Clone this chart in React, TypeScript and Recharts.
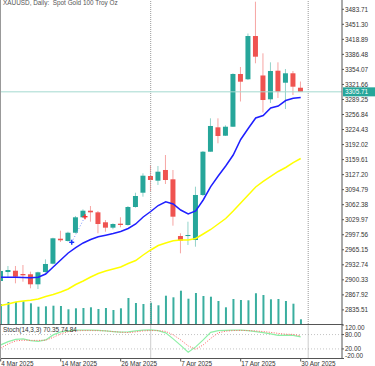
import { Bar, ComposedChart, Line, ReferenceDot, ReferenceLine, XAxis, YAxis } from 'recharts';

// bar dates (daily, gold closed on Good Friday)
const dates = [
    '4 Mar', '5 Mar', '6 Mar', '7 Mar', '10 Mar', '11 Mar', '12 Mar', '13 Mar', '14 Mar', '17 Mar',
    '18 Mar', '19 Mar', '20 Mar', '21 Mar', '24 Mar', '25 Mar', '26 Mar', '27 Mar', '28 Mar', '31 Mar',
    '1 Apr', '2 Apr', '3 Apr', '4 Apr', '7 Apr', '8 Apr', '9 Apr', '10 Apr', '11 Apr', '14 Apr',
    '15 Apr', '16 Apr', '17 Apr', '21 Apr', '22 Apr', '23 Apr', '24 Apr', '25 Apr', '28 Apr', '29 Apr',
    '30 Apr',
];

const opens = [
    2897.8, 2917.2, 2920.0, 2912.9, 2912.3, 2890.7, 2917.2, 2935.1, 2989.0, 2984.1,
    3001.9, 3035.2, 3049.4, 3045.9, 3024.4, 3012.8, 3021.4, 3018.6, 3057.4, 3088.2,
    3124.2, 3114.1, 3137.2, 3117.1, 2994.8, 2994.8, 2986.2, 3083.3, 3176.6, 3229.2,
    3211.1, 3230.5, 3344.2, 3332.8, 3426.1, 3341.0, 3289.6, 3351.3, 3325.4, 3345.7,
    3314.6,
];
const highs = [
    2923.7, 2930.2, 2930.2, 2932.3, 2917.9, 2917.9, 2944.6, 2991.2, 3006.3, 3004.1,
    3038.0, 3052.4, 3059.5, 3048.8, 3029.3, 3022.2, 3035.2, 3059.5, 3088.2, 3130.0,
    3147.9, 3145.8, 3169.5, 3137.2, 3000.7, 3025.7, 3101.2, 3178.2, 3248.6, 3248.6,
    3233.6, 3345.7, 3359.3, 3431.5, 3500.1, 3388.8, 3369.4, 3369.4, 3355.0, 3350.7,
    3328.0,
];
const lows = [
    2893.5, 2904.3, 2892.8, 2896.3, 2882.1, 2880.5, 2915.7, 2933.8, 2981.9, 2982.6,
    3000.7, 3033.7, 3025.7, 3000.7, 3004.1, 3009.3, 3013.6, 3017.1, 3055.9, 3079.6,
    3090.4, 3104.8, 3107.0, 3017.1, 2957.5, 2975.4, 2971.8, 3081.1, 3176.6, 3194.7,
    3210.5, 3229.9, 3284.9, 3331.3, 3367.3, 3261.2, 3281.6, 3292.4, 3268.7, 3298.9,
    3305.4,
];
const closes = [
    2919.4, 2921.5, 2907.1, 2910.1, 2890.7, 2916.6, 2934.5, 2989.9, 2985.6, 3001.9,
    3035.2, 3049.4, 3045.9, 3020.7, 3012.8, 3020.7, 3018.6, 3057.4, 3081.1, 3124.9,
    3115.6, 3133.5, 3115.6, 3036.5, 2984.7, 2997.0, 3083.3, 3176.6, 3232.1, 3210.5,
    3230.5, 3344.2, 3327.6, 3426.1, 3381.5, 3288.1, 3350.7, 3306.0, 3345.7, 3316.8,
    3305.71,
];

// moving averages
const maFast = [
    2905.8, 2905.8, 2905.8, 2905.3, 2904.9, 2905.8, 2912.8, 2928.0, 2943.1, 2958.2,
    2970.0, 2979.8, 2987.3, 2993.1, 2996.6, 3000.2, 3004.6, 3011.0, 3020.7, 3035.8,
    3047.7, 3060.6, 3068.8, 3063.9, 3050.9, 3042.3, 3048.8, 3072.5, 3101.2, 3124.2,
    3145.8, 3169.5, 3203.0, 3226.7, 3249.3, 3254.7, 3270.9, 3275.2, 3287.0, 3291.8,
    3293.5,
];
const maSlow = [
    2845.0, 2848.2, 2852.5, 2854.7, 2856.2, 2859.0, 2864.4, 2868.7, 2874.1, 2880.6,
    2890.3, 2897.8, 2906.4, 2914.0, 2919.4, 2923.7, 2928.0, 2935.6, 2942.0, 2953.9,
    2964.7, 2974.4, 2979.8, 2984.5, 2986.2, 2986.2, 2989.5, 2999.2, 3008.9, 3020.7,
    3032.6, 3048.8, 3066.0, 3083.3, 3100.5, 3112.4, 3123.2, 3134.0, 3142.6, 3153.3,
    3162.0,
];

// tick volume, thousands
const volumes = [
    200, 220, 220, 227, 207, 173, 177, 183, 180, 147,
    157, 160, 167, 150, 160, 140, 157, 260, 210, 200,
    213, 187, 283, 267, 333, 253, 310, 280, 273, 230,
    167, 250, 240, 237, 307, 290, 247, 250, 230, 203,
    47,
];

const stochK = [
    36.8, 50.6, 59.9, 61.9, 54.8, 51.5, 57.8, 78.7, 91.3, 95.4,
    98.4, 98.4, 98.4, 97.5, 95.4, 92.5, 90.0, 91.3, 95.4, 98.4,
    99.6, 96.7, 87.1, 61.9, 34.7, 6.3, 28.5, 57.8, 89.2, 96.7,
    97.5, 98.4, 98.4, 96.3, 92.5, 87.9, 82.9, 76.6, 77.4, 76.6,
    70.35,
];
const stochD = [
    23.0, 41.0, 53.6, 56.5, 55.7, 55.7, 56.5, 68.2, 82.9, 92.5,
    95.4, 96.7, 96.7, 96.3, 95.4, 92.5, 90.0, 88.3, 91.3, 95.4,
    96.7, 96.3, 93.3, 78.7, 57.8, 32.6, 18.8, 36.8, 64.0, 87.1,
    94.2, 96.7, 97.5, 96.7, 95.4, 92.5, 89.2, 85.0, 81.6, 80.8,
    74.84,
];

const priceTicks = [
    2835.51, 2867.92, 2900.33, 2932.74, 2965.15, 2997.56, 3029.97, 3062.38, 3094.79, 3127.2,
    3159.61, 3192.02, 3224.43, 3256.84, 3289.25, 3321.66, 3354.07, 3386.48, 3418.89, 3451.3,
    3483.71,
];
const stochTicks = [120, 80, 20, -20];
const stochLevels = [80, 20];
const dateTickIdx = [0, 8, 16, 24, 32, 40];
const monthStarts = [20, 41];
const lastPrice = 3305.71;
const trades = [
    { i: 9.47, price: 2981.3, side: 'buy' },
    { i: 11.24, price: 3036.5, side: 'sell' },
];

const W = 375;
const AXIS_W = 33;
const X_DOMAIN: [number, number] = [-0.0933, 45.507];
const FONT = '"Liberation Sans", Arial, sans-serif';
const UP = '#26a69a';
const DOWN = '#ef5350';

const rows = dates.map((date, i) => ({
    i,
    date,
    open: opens[i],
    close: closes[i],
    range: [lows[i], highs[i]],
    fast: maFast[i],
    slow: maSlow[i],
    vol: volumes[i],
    k: stochK[i],
    d: stochD[i],
}));

function Candle(props: any) {
    const { x, y, width, height, payload } = props;
    if (!payload) return null;
    const [low, high] = payload.range;
    const k = height / (high - low || 1);
    const yo = y + (high - payload.open) * k;
    const yc = y + (high - payload.close) * k;
    const up = payload.close >= payload.open;
    const cx = x + width / 2;
    return (
        <g>
            <line x1={cx} x2={cx} y1={y} y2={y + height} stroke={up ? '#93d3ca' : '#f6a5a3'} />
            <rect x={cx - 2.5} y={Math.min(yo, yc)} width={5} height={Math.max(1, Math.abs(yc - yo))} fill={up ? UP : DOWN} />
        </g>
    );
}

function PriceTag(props: any) {
    const vb = props.viewBox;
    if (!vb) return null;
    const x = vb.x + vb.width + 1;
    return (
        <g>
            <rect x={x} y={vb.y - 4.5} width={32} height={9} fill={UP} />
            <text x={x + 2} y={vb.y + 2.3} fontSize={6.4} fill="#fff" fontFamily={FONT}>
                {lastPrice.toFixed(2)}
            </text>
        </g>
    );
}

function TradeMark(props: any) {
    const { cx, cy, side } = props;
    const c = side === 'buy' ? '#1533ff' : '#ff2b2b';
    return (
        <g stroke={c} strokeWidth={1.4}>
            <line x1={cx - 2.5} x2={cx + 2.5} y1={cy} y2={cy} />
            <line x1={cx} x2={cx} y1={cy - 2.5} y2={cy + 2.5} />
        </g>
    );
}

function StochTick(props: any) {
    const { x, y, payload } = props;
    const v = payload.value;
    const shift = v === 120 ? 2.7 : v === -20 ? -3.2 : 0;
    return (
        <text x={x} y={y + shift} dy="0.35em" fontSize={6.4} fill="#333" fontFamily={FONT} textAnchor="start">
            {v.toFixed(2)}
        </text>
    );
}

function DateTick(props: any) {
    const { x, y, payload } = props;
    return (
        <text x={x + 0.5} y={y} dy="0.71em" fontSize={6.4} fill="#333" fontFamily={FONT} textAnchor="start">
            {`${dates[payload.value]} 2025`}
        </text>
    );
}

export default function App() {
    return (
        <div style={{ position: 'absolute', left: 0, top: 0, width: W, height: 366, background: '#fff', overflow: 'hidden' }}>
            <div style={{ position: 'absolute', left: 0, top: 0 }}>
                <ComposedChart width={W} height={324} data={rows} margin={{ top: 0, right: 0, bottom: 0, left: 0 }}>
                    <XAxis dataKey="i" type="number" domain={X_DOMAIN} allowDataOverflow hide />
                    <XAxis xAxisId="v" dataKey="i" type="number" domain={X_DOMAIN} allowDataOverflow hide />
                    <YAxis
                        orientation="right"
                        width={AXIS_W}
                        type="number"
                        domain={[2805.09, 3503.76]}
                        allowDataOverflow
                        ticks={priceTicks}
                        interval={0}
                        tickSize={2}
                        tickMargin={1}
                        tickFormatter={(v: number) => v.toFixed(2)}
                        tick={{ fontSize: 6.4, fill: '#333', fontFamily: FONT, textAnchor: 'start' }}
                        axisLine={{ stroke: '#555' }}
                        tickLine={{ stroke: '#555' }}
                    />
                    <YAxis yAxisId="v" hide domain={[0, 3240]} />
                    {monthStarts.map((m) => (
                        <ReferenceLine key={m} x={m} stroke="#999" strokeDasharray="1 1" />
                    ))}
                    <Bar xAxisId="v" yAxisId="v" dataKey="vol" barSize={2} fill="#3aae9f" isAnimationActive={false} />
                    <ReferenceLine y={lastPrice} stroke="#a3d9cf" label={<PriceTag />} />
                    <Line type="linear" dataKey="slow" stroke="#ffff00" strokeWidth={1.5} dot={false} isAnimationActive={false} />
                    <Line type="linear" dataKey="fast" stroke="#1f1fff" strokeWidth={1.5} dot={false} isAnimationActive={false} />
                    <Bar dataKey="range" barSize={5} shape={<Candle />} isAnimationActive={false} />
                    <ReferenceLine
                        segment={[{ x: trades[0].i, y: trades[0].price }, { x: trades[1].i, y: trades[1].price }]}
                        stroke="#7f96ff"
                        strokeDasharray="1 2"
                    />
                    {trades.map((t) => (
                        <ReferenceDot key={t.side} x={t.i} y={t.price} r={2} shape={(p: any) => <TradeMark {...p} side={t.side} />} />
                    ))}
                </ComposedChart>
            </div>
            <div style={{ position: 'absolute', left: 0, top: 324 }}>
                <ComposedChart width={W} height={42} data={rows} margin={{ top: 1, right: 0, bottom: 0, left: 0 }}>
                    <XAxis
                        dataKey="i"
                        type="number"
                        domain={X_DOMAIN}
                        allowDataOverflow
                        ticks={dateTickIdx}
                        interval={0}
                        height={7.5}
                        tickSize={3}
                        tickMargin={0}
                        tick={<DateTick />}
                        axisLine={{ stroke: '#555' }}
                        tickLine={{ stroke: '#555' }}
                    />
                    <YAxis
                        orientation="right"
                        width={AXIS_W}
                        type="number"
                        domain={[-20, 120]}
                        allowDataOverflow
                        ticks={stochTicks}
                        interval={0}
                        tickSize={2}
                        tickMargin={1}
                        tick={<StochTick />}
                        axisLine={{ stroke: '#555' }}
                        tickLine={{ stroke: '#555' }}
                    />
                    {stochLevels.map((l) => (
                        <ReferenceLine key={l} y={l} stroke="#c4c4c4" strokeDasharray="1 2" />
                    ))}
                    {monthStarts.map((m) => (
                        <ReferenceLine key={m} x={m} stroke="#999" strokeDasharray="1 1" />
                    ))}
                    <Line type="linear" dataKey="k" stroke="#8ef0a6" strokeWidth={1.2} dot={false} isAnimationActive={false} />
                    <Line type="linear" dataKey="d" stroke="#ff6464" strokeWidth={1} strokeDasharray="1 1.5" dot={false} isAnimationActive={false} />
                </ComposedChart>
            </div>
            <div style={{ position: 'absolute', left: 0, top: 0, width: 1, height: 359, background: '#999' }} />
            <div style={{ position: 'absolute', left: 0, top: 324, width: 343, height: 1, background: '#555' }} />
            <div style={{ position: 'absolute', left: 3, top: -1, lineHeight: '7px', fontFamily: FONT, fontSize: 6.4, color: '#555', whiteSpace: 'nowrap' }}>
                XAUUSD, Daily:&nbsp; Spot Gold 100 Troy Oz
            </div>
            <div style={{ position: 'absolute', left: 3, top: 326, fontFamily: FONT, fontSize: 6.4, color: '#333', whiteSpace: 'nowrap' }}>
                Stoch(14,3,3) 70.35 74.84
            </div>
        </div>
    );
}
